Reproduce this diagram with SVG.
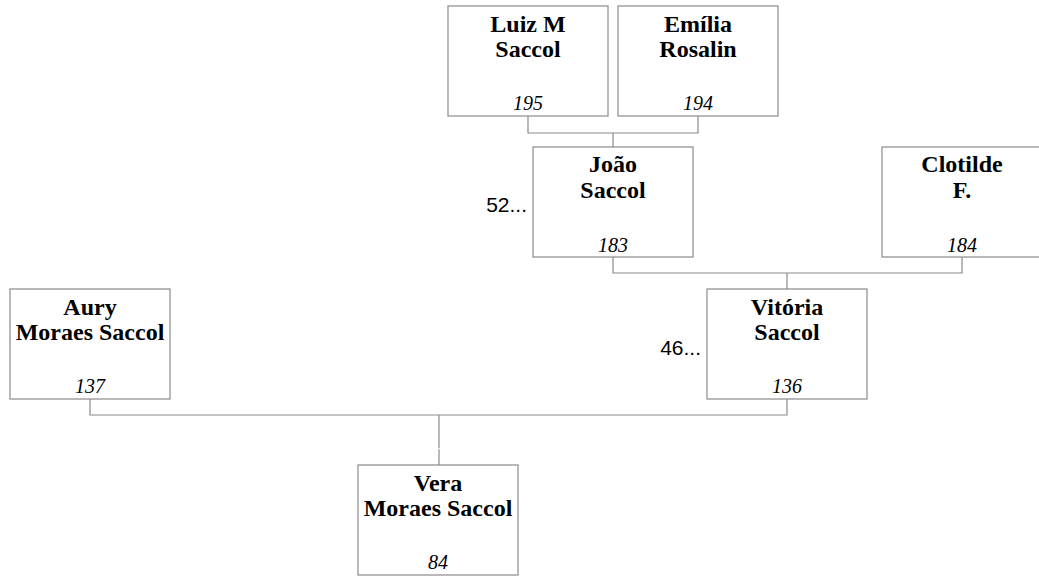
<svg xmlns="http://www.w3.org/2000/svg" width="1039" height="577" viewBox="0 0 1039 577">
<style>
.box{fill:#fff;stroke:#8a8a8a;stroke-width:1.2}
.nm{font-family:"Liberation Serif","Times New Roman",serif;font-weight:bold;font-size:24px;fill:#000;text-anchor:middle}
.id{font-family:"Liberation Serif","Times New Roman",serif;font-style:italic;font-size:20px;fill:#000;text-anchor:middle}
.side{font-family:"Liberation Sans",Arial,sans-serif;font-size:21px;fill:#000;text-anchor:end}
.ln{fill:none;stroke:#8a8a8a;stroke-width:1.2}
</style>
<rect width="1039" height="577" fill="#fff"/>
<g id="connectors">
<polyline class="ln" points="528,116 528,133 698,133 698,116"/>
<line class="ln" x1="613" y1="133" x2="613" y2="147"/>
<polyline class="ln" points="613,257 613,273 962,273 962,257"/>
<line class="ln" x1="787" y1="273" x2="787" y2="289"/>
<polyline class="ln" points="90,399 90,415 787,415 787,399"/>
<line class="ln" x1="439" y1="415" x2="439" y2="448.3"/>
<line class="ln" x1="439" y1="449.3" x2="439" y2="465"/>
</g>
<g id="luiz">
<rect class="box" x="448" y="6" width="160" height="110"/>
<text class="nm" x="528" y="32">Luiz M</text>
<text class="nm" x="528" y="57">Saccol</text>
<text class="id" x="528" y="110">195</text>
</g>
<g id="emilia">
<rect class="box" x="618" y="6" width="160" height="110"/>
<text class="nm" x="698" y="32">Emília</text>
<text class="nm" x="698" y="57">Rosalin</text>
<text class="id" x="698" y="110">194</text>
</g>
<g id="joao">
<rect class="box" x="533" y="147" width="160" height="110"/>
<text class="nm" x="613" y="172">João</text>
<text class="nm" x="613" y="198">Saccol</text>
<text class="id" x="613" y="252">183</text>
<text class="side" x="527" y="212">52...</text>
</g>
<g id="clotilde">
<rect class="box" x="882" y="147" width="160" height="110"/>
<text class="nm" x="962" y="172">Clotilde</text>
<text class="nm" x="962" y="198">F.</text>
<text class="id" x="962" y="252">184</text>
</g>
<g id="aury">
<rect class="box" x="10" y="289" width="160" height="110"/>
<text class="nm" x="90" y="315">Aury</text>
<text class="nm" x="90" y="340">Moraes Saccol</text>
<text class="id" x="90" y="393">137</text>
</g>
<g id="vitoria">
<rect class="box" x="707" y="289" width="160" height="110"/>
<text class="nm" x="787" y="315">Vitória</text>
<text class="nm" x="787" y="340">Saccol</text>
<text class="id" x="787" y="393">136</text>
<text class="side" x="701" y="355">46...</text>
</g>
<g id="vera">
<rect class="box" x="358" y="465" width="160" height="110"/>
<text class="nm" x="438" y="491">Vera</text>
<text class="nm" x="438" y="516">Moraes Saccol</text>
<text class="id" x="438" y="569">84</text>
</g>
</svg>
